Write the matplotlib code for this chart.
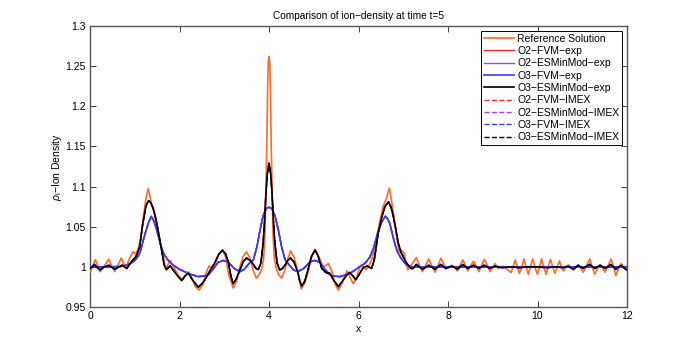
import matplotlib
matplotlib.use("Agg")
import matplotlib.pyplot as plt

# ---------------- data (x, rho_i) ----------------
# reference solution (orange)
ref_x = [0.00, 0.06, 0.12, 0.17, 0.23, 0.32, 0.42, 0.48, 0.55, 0.62, 0.70, 0.76, 0.80, 0.88,
         0.96, 1.01, 1.07, 1.13, 1.20, 1.25, 1.30, 1.34, 1.38, 1.43, 1.49, 1.56, 1.64, 1.69,
         1.74, 1.79, 1.85, 1.90, 1.97, 2.05, 2.12, 2.20, 2.28, 2.36, 2.44, 2.52, 2.61, 2.66,
         2.72, 2.78, 2.87, 2.96, 3.03, 3.10, 3.20, 3.28, 3.35, 3.42, 3.50, 3.58, 3.65, 3.72,
         3.78, 3.84, 3.88, 3.91, 3.95, 3.97, 3.985, 4.00,
         4.015, 4.03, 4.05, 4.09, 4.12, 4.16, 4.22, 4.28, 4.35, 4.42, 4.48, 4.56, 4.64, 4.72,
         4.80, 4.88, 4.96, 5.03, 5.12, 5.21, 5.27, 5.33, 5.40, 5.48, 5.55, 5.64, 5.74, 5.82,
         5.88, 5.95, 6.02, 6.07, 6.12, 6.17, 6.22, 6.30, 6.38, 6.47, 6.55, 6.62, 6.69, 6.74,
         6.80, 6.86, 6.91, 6.96, 7.02, 7.06, 7.10, 7.20, 7.29, 7.36, 7.43, 7.50, 7.57, 7.64,
         7.71, 7.78, 7.84, 7.90, 7.95, 8.02, 8.09, 8.15, 8.21, 8.27, 8.33, 8.39, 8.44, 8.50,
         8.57, 8.63, 8.69, 8.75, 8.81, 8.88, 8.94, 9.00, 9.05, 9.12, 9.22, 9.32, 9.41, 9.46,
         9.50, 9.55, 9.594, 9.65, 9.698, 9.745, 9.795, 9.845, 9.892, 9.94, 9.996, 10.045,
         10.09, 10.14, 10.19, 10.24, 10.29, 10.34, 10.39, 10.44, 10.49, 10.535, 10.58, 10.635,
         10.69, 10.80, 10.91, 10.97, 11.02, 11.10, 11.17, 11.22, 11.28, 11.34, 11.40, 11.46,
         11.51, 11.58, 11.64, 11.70, 11.75, 11.81, 11.87, 11.92, 11.96, 12.00]
ref_rho = [0.993, 1.001, 1.009, 1.002, 0.994, 1.001, 1.0095, 1.002, 0.994, 1.002, 1.011, 1.003, 0.999, 1.010,
           1.019, 1.016, 1.021, 1.035, 1.065, 1.085, 1.0975, 1.088, 1.076, 1.071, 1.055, 1.032, 1.013, 0.9965,
           1.003, 1.008, 1.002, 0.9965, 0.990, 0.984, 0.989, 0.9937, 0.985, 0.975, 0.971, 0.978, 0.995, 1.001,
           0.999, 1.004, 1.015, 1.0214, 1.012, 0.990, 0.9737, 0.983, 1.000, 1.013, 1.0186, 1.010, 0.995, 0.986,
           0.990, 0.998, 1.010, 1.040, 1.150, 1.225, 1.256, 1.262,
           1.256, 1.225, 1.150, 1.040, 1.010, 0.998, 0.990, 0.986, 0.995, 1.010, 1.020, 1.012, 0.995, 0.9725,
           0.980, 0.995, 1.014, 1.022, 1.012, 1.000, 1.002, 1.004, 0.995, 0.978, 0.971, 0.980, 0.995, 0.986,
           0.979, 0.985, 0.998, 1.003, 0.999, 0.9965, 1.000, 1.010, 1.030, 1.055, 1.075, 1.085, 1.098, 1.082,
           1.059, 1.035, 1.019, 1.021, 1.017, 1.006, 0.9965, 1.004, 1.0115, 1.002, 0.994, 1.002, 1.0098, 1.001,
           0.9933, 1.002, 1.0107, 1.004, 0.9974, 1.000, 1.002, 0.999, 0.995, 1.002, 1.0086, 1.002, 0.995, 1.001,
           1.007, 1.001, 0.994, 1.002, 1.0094, 1.002, 0.994, 0.999, 1.004, 0.998, 1.001, 0.997, 0.993, 1.001,
           1.0086, 1.000, 0.992, 1.000, 1.0098, 1.000, 0.9908, 1.000, 1.0098, 1.000, 0.9908, 1.000,
           1.0098, 1.000, 0.9908, 1.000, 1.0094, 1.000, 0.992, 1.000, 1.0073, 1.000, 0.9949, 1.000,
           1.0024, 0.996, 1.002, 0.998, 0.9933, 1.002, 1.0098, 1.000, 0.9908, 0.998, 1.003, 0.998,
           0.9933, 1.002, 1.0098, 1.000, 0.989, 0.998, 1.004, 1.000, 0.997, 1.000]

# O3-ESMinMod (black)
esm_x = [0.00, 0.10, 0.22, 0.32, 0.42, 0.55, 0.65, 0.72, 0.82, 0.92, 1.03, 1.11, 1.18, 1.25,
         1.31, 1.36, 1.41, 1.47, 1.52, 1.57, 1.61, 1.66, 1.71, 1.79, 1.86, 1.94, 2.05, 2.13,
         2.20, 2.30, 2.42, 2.52, 2.61, 2.70, 2.79, 2.88, 2.96, 3.03, 3.09, 3.15, 3.20, 3.27,
         3.35, 3.43, 3.50, 3.58, 3.65, 3.71, 3.76, 3.82, 3.87, 3.90, 3.93, 3.96, 4.00,
         4.04, 4.07, 4.10, 4.13, 4.18, 4.24, 4.30, 4.37, 4.42, 4.48, 4.56, 4.64, 4.69, 4.73,
         4.80, 4.87, 4.95, 5.03, 5.10, 5.18, 5.27, 5.36, 5.45, 5.55, 5.65, 5.74, 5.80, 5.87,
         5.94, 6.02, 6.11, 6.20, 6.29, 6.35, 6.44, 6.52, 6.59, 6.67, 6.73, 6.78, 6.84, 6.89,
         6.95, 7.00, 7.06, 7.11, 7.17, 7.22, 7.29, 7.43, 7.57, 7.71, 7.84, 7.95, 8.09, 8.21,
         8.33, 8.44, 8.57, 8.69, 8.81, 8.94, 9.05, 9.20, 9.40, 9.60, 9.80, 10.00, 10.20, 10.40,
         10.58, 10.69, 10.80, 10.91, 11.02, 11.10, 11.17, 11.28, 11.40, 11.51, 11.64, 11.75,
         11.87, 11.95, 12.00]
esm_rho = [0.998, 1.003, 0.996, 1.000, 1.002, 0.997, 1.000, 1.002, 0.998, 1.006, 1.013, 1.025, 1.054, 1.076,
           1.0825, 1.080, 1.073, 1.060, 1.046, 1.030, 1.017, 1.002, 0.9965, 1.0015, 0.996, 0.990, 0.983, 0.989,
           0.992, 0.983, 0.9746, 0.980, 0.988, 0.997, 1.005, 1.016, 1.0207, 1.016, 1.006, 0.988, 0.979, 0.985,
           0.9965, 1.007, 1.011, 1.008, 1.003, 0.998, 0.9965, 1.005, 1.030, 1.055, 1.090, 1.115, 1.129,
           1.115, 1.090, 1.055, 1.030, 1.005, 0.996, 0.998, 1.003, 1.008, 1.011, 1.006, 0.994, 0.982, 0.976,
           0.982, 0.996, 1.013, 1.021, 1.013, 0.998, 0.993, 0.992, 0.983, 0.9753, 0.983, 0.990, 0.993, 0.989,
           0.984, 0.991, 0.9995, 1.001, 0.998, 1.008, 1.042, 1.062, 1.075, 1.081, 1.074, 1.0625, 1.045, 1.029,
           1.018, 1.0127, 1.006, 1.002, 0.998, 0.998, 1.003, 0.997, 1.002, 0.997, 1.003, 0.998, 1.001, 0.997,
           1.003, 0.998, 1.002, 0.998, 1.002, 0.998, 1.001, 0.999, 1.000, 0.999, 1.000, 1.000, 0.999, 1.000,
           0.999, 1.001, 0.997, 1.002, 0.998, 1.001, 1.003, 0.998, 1.002, 0.998, 1.003, 0.997,
           1.002, 0.998, 0.996]

# O3-FVM (blue)
fvm_x = [0.00, 0.40, 0.70, 0.85, 0.92, 1.00, 1.07, 1.13, 1.18, 1.24, 1.30, 1.37, 1.42, 1.48,
         1.54, 1.59, 1.66, 1.74, 1.82, 1.89, 2.00, 2.19, 2.41, 2.55, 2.64, 2.75, 2.86, 2.98,
         3.09, 3.22, 3.35, 3.45, 3.55, 3.65, 3.73, 3.80, 3.87, 3.94, 4.00, 4.06, 4.13, 4.21,
         4.28, 4.36, 4.46, 4.55, 4.64, 4.78, 4.91, 5.02, 5.14, 5.25, 5.36, 5.45, 5.59, 5.81,
         5.92, 6.02, 6.15, 6.25, 6.33, 6.44, 6.52, 6.60, 6.65, 6.70, 6.76, 6.82, 6.87, 6.93,
         7.00, 7.08, 7.20, 9.00, 12.00]
fvm_rho = [1.000, 1.000, 1.0005, 1.003, 1.0045, 1.008, 1.0127, 1.020, 1.031, 1.043, 1.054, 1.063, 1.058, 1.048,
           1.036, 1.025, 1.015, 1.0086, 1.004, 1.001, 0.997, 0.992, 0.9878, 0.9885, 0.990, 0.997, 1.0055, 1.008,
           1.006, 0.998, 0.994, 0.997, 1.004, 1.0086, 1.025, 1.046, 1.064, 1.073, 1.0742, 1.073, 1.064, 1.046,
           1.025, 1.0086, 1.002, 0.996, 0.994, 0.998, 1.006, 1.008, 1.0055, 0.997, 0.990, 0.9885, 0.9878, 0.992,
           0.996, 1.000, 1.0045, 1.012, 1.022, 1.044, 1.056, 1.063, 1.060, 1.054, 1.040, 1.027, 1.019, 1.0127,
           1.007, 1.002, 1.000, 1.000, 1.000]

x_ticks = [0, 2, 4, 6, 8, 10, 12]
y_ticks = [0.95, 1.0, 1.05, 1.1, 1.15, 1.2, 1.25, 1.3]
y_tick_labels = ["0.95", "1", "1.05", "1.1", "1.15", "1.2", "1.25", "1.3"]

# the O2 runs and the IMEX runs sit exactly under the O3 explicit curves
series = [
    ("Reference Solution", ref_x, ref_rho, "#ff6a2b", "-", 1.2, 3),
    ("O2\u2212FVM\u2212exp", fvm_x, fvm_rho, "#f02a2a", "-", 1.0, 1),
    ("O2\u2212ESMinMod\u2212exp", esm_x, esm_rho, "#b03cf0", "-", 1.0, 1),
    ("O3\u2212FVM\u2212exp", fvm_x, fvm_rho, "#3c3cf5", "-", 1.2, 4),
    ("O3\u2212ESMinMod\u2212exp", esm_x, esm_rho, "black", "-", 1.2, 5),
    ("O2\u2212FVM\u2212IMEX", fvm_x, fvm_rho, "#f02a2a", "--", 1.0, 1),
    ("O2\u2212ESMinMod\u2212IMEX", esm_x, esm_rho, "#b03cf0", "--", 1.0, 1),
    ("O3\u2212FVM\u2212IMEX", fvm_x, fvm_rho, "#3c3cf5", "--", 1.0, 1),
    ("O3\u2212ESMinMod\u2212IMEX", esm_x, esm_rho, "black", "--", 1.0, 1),
]

plt.rcParams["font.family"] = ["Liberation Sans", "DejaVu Sans"]
plt.rcParams["font.size"] = 7.5
plt.rcParams["mathtext.fontset"] = "custom"
plt.rcParams["mathtext.rm"] = "Liberation Sans"
plt.rcParams["mathtext.it"] = "Liberation Sans:italic"

fig = plt.figure(figsize=(6.92, 3.46), dpi=100)
ax = fig.add_axes([90 / 692, 39 / 346, 537 / 692, 281 / 346])

handles = []
for label, xs, ys, col, ls, lw, z in series:
    h, = ax.plot(xs, ys, color=col, linestyle=ls, linewidth=lw, zorder=z, label=label)
    handles.append(h)

ax.set_xlim(0, 12)
ax.set_ylim(0.95, 1.3)
ax.set_xticks(x_ticks)
ax.set_yticks(y_ticks)
ax.set_yticklabels(y_tick_labels)
ax.tick_params(direction="in", length=4, width=0.6, top=True, right=True, pad=3,
               colors="#222222", labelcolor="black")
for sp in ax.spines.values():
    sp.set_color("#555555")
    sp.set_linewidth(1.0)

ax.set_title("Comparison of ion\u2212density at time t=5", fontsize=7.3, pad=5)
ax.set_xlabel("x", labelpad=2)
ax.set_ylabel(r"$\rho_{\mathrm{i}}$" + "\u2212Ion Density", labelpad=1)

leg = ax.legend(handles=handles, loc="upper right", fancybox=False, framealpha=1,
                edgecolor="black", borderaxespad=0.45, handlelength=2.9,
                handletextpad=0.3, labelspacing=0.22, borderpad=0.3)
leg.get_frame().set_linewidth(0.7)

fig.savefig("out.png", dpi=100)
